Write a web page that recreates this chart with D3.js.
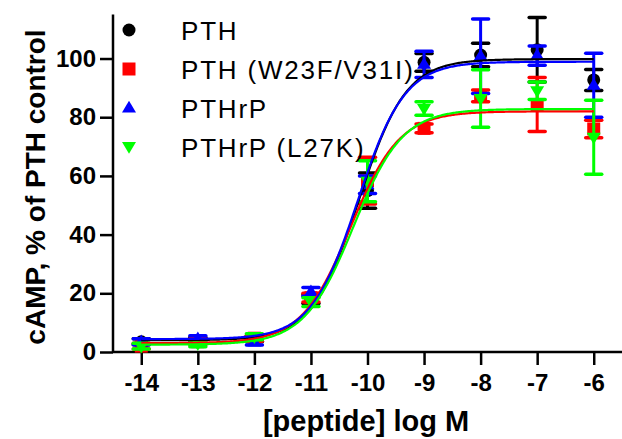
<!DOCTYPE html>
<html><head><meta charset="utf-8">
<script src="https://cdn.jsdelivr.net/npm/d3@7"></script>
<style>body{margin:0;background:#fff}svg{display:block}text{font-family:Arial,"Liberation Sans",sans-serif}</style>
</head><body><svg id="c" width="622" height="439"></svg>
<script>
const logDose = [-14,-13,-12,-11,-10,-9,-8,-7,-6];
const seriesNames = ["PTH","PTH (W23F/V31I)","PTHrP","PTHrP (L27K)"];
const seriesColors = ["#000000","#ff0000","#0000ff","#00ff00"];
const seriesShapes = ["circle","square","up","down"];
const pthMean = [3.5, 4.0, 4.5, 18, 55, 98.7, 101.2, 103, 92.7];
const pthErr  = [1, 1, 1, 1.5, 6, 3, 4, 11, 3.6];
const mutMean = [2.0, 3.5, 4.7, 18.5, 58.4, 76.2, 87.3, 84.3, 76];
const mutErr  = [1, 1, 1, 1.5, 8, 1.5, 2, 9.2, 3];
const rpMean  = [3.5, 4.5, 3.4, 20.5, 57, 98, 100.8, 101, 90.9];
const rpErr   = [1, 1, 1, 1.5, 3, 4.5, 12.7, 3.3, 10.9];
const rpkMean = [2.0, 2.8, 5.2, 17, 58.2, 83, 86.4, 89, 73.2];
const rpkErr  = [1, 1, 1, 1.5, 7, 2.3, 9.8, 3, 12.6];
// fitted sigmoid parameters: bottom, top, logEC50, hill
const fitBottom = [4.0, 3.0, 4.4, 2.5];
const fitTop = [99.8, 82.0, 98.9, 82.8];
const fitLogEC50 = [-10.15, -10.3, -10.17, -10.25];
const fitHill = [1.05, 1.0, 1.05, 1.0];
const yTicks = [0,20,40,60,80,100];
const xTicks = [-14,-13,-12,-11,-10,-9,-8,-7,-6];

const means = [pthMean, mutMean, rpMean, rpkMean];
const errs = [pthErr, mutErr, rpErr, rpkErr];

const svg = d3.select("#c");
const x = d3.scaleLinear().domain([-14.5,-5.5]).range([113,622]);
const y = d3.scaleLinear().domain([0,115]).range([352,14.5]);

function shapePath(shape, s){
  if(shape==="circle") return d3.symbol(d3.symbolCircle, Math.PI*s*s/4)();
  if(shape==="square") return `M${-s/2},${-s/2}H${s/2}V${s/2}H${-s/2}Z`;
  const h = s*0.9;
  if(shape==="up") return `M0,${-h*0.62}L${s/2+0.5},${h*0.38}L${-s/2-0.5},${h*0.38}Z`;
  return `M0,${h*0.62}L${s/2+0.5},${-h*0.38}L${-s/2-0.5},${-h*0.38}Z`;
}

// axes
const yAxis = d3.axisLeft(y).tickValues(yTicks).tickSize(13).tickPadding(4).tickFormat(d3.format("d"));
const gy = svg.append("g").attr("transform","translate(113,0)").call(yAxis);
gy.select(".domain").attr("d","M0,14.5V352").attr("stroke","#000").attr("stroke-width",2.5);
gy.selectAll(".tick line").attr("stroke","#000").attr("stroke-width",2.5);
gy.selectAll(".tick text").attr("font-size",24).attr("font-weight","bold").attr("fill","#000").attr("font-family","Arial, 'Liberation Sans', sans-serif");

const xAxis = d3.axisBottom(x).tickValues(xTicks).tickSize(13).tickPadding(9).tickFormat(d3.format("d"));
const gx = svg.append("g").attr("transform","translate(0,352)").call(xAxis);
gx.select(".domain").attr("d","M113,0H622").attr("stroke","#000").attr("stroke-width",2.5);
gx.selectAll(".tick line").attr("stroke","#000").attr("stroke-width",2.5);
gx.selectAll(".tick text").attr("font-size",24).attr("font-weight","bold").attr("fill","#000").attr("font-family","Arial, 'Liberation Sans', sans-serif").text(d=>d3.format("d")(d).replace("\u2212","-"));

svg.append("text").attr("x",366).attr("y",431).attr("text-anchor","middle").attr("font-size",29).attr("font-weight","bold").text("[peptide] log M");
svg.append("text").attr("transform","translate(45,187) rotate(-90)").attr("text-anchor","middle").attr("font-size",28).attr("font-weight","bold").text("cAMP, % of PTH control");

// points and error bars
means.forEach((m,si)=>{
  const g = svg.append("g");
  const col = seriesColors[si];
  logDose.forEach((d,i)=>{
    const cx = x(d), lo = y(m[i]-errs[si][i]), hi = y(m[i]+errs[si][i]);
    g.append("line").attr("x1",cx).attr("x2",cx).attr("y1",lo).attr("y2",hi).attr("stroke",col).attr("stroke-width",3);
    [lo,hi].forEach(yy=>g.append("line").attr("x1",cx-8).attr("x2",cx+8).attr("y1",yy).attr("y2",yy).attr("stroke",col).attr("stroke-width",3.5).attr("stroke-linecap","round"));
    g.append("path").attr("d",shapePath(seriesShapes[si],13)).attr("transform",`translate(${cx},${y(m[i])})`).attr("fill",col);
  });
});

// fit curves
const line = d3.line().x(d=>x(d[0])).y(d=>y(d[1])).curve(d3.curveLinear);
seriesNames.forEach((n,si)=>{
  const pts = d3.range(-14,-5.999,0.02).map(v=>[v, fitBottom[si]+(fitTop[si]-fitBottom[si])/(1+Math.pow(10,fitHill[si]*(fitLogEC50[si]-v)))]);
  svg.append("path").attr("d",line(pts)).attr("fill","none").attr("stroke",seriesColors[si]).attr("stroke-width",2.2);
});

// legend
const legY = [30,69,108,146.5];
seriesNames.forEach((n,si)=>{
  svg.append("path").attr("d",shapePath(seriesShapes[si],13)).attr("transform",`translate(129,${legY[si]})`).attr("fill",seriesColors[si]);
  svg.append("text").attr("x",181).attr("y",legY[si]+10).attr("font-size",26).attr("letter-spacing",1.8).attr("fill","#000").text(n);
});
</script></body></html>
